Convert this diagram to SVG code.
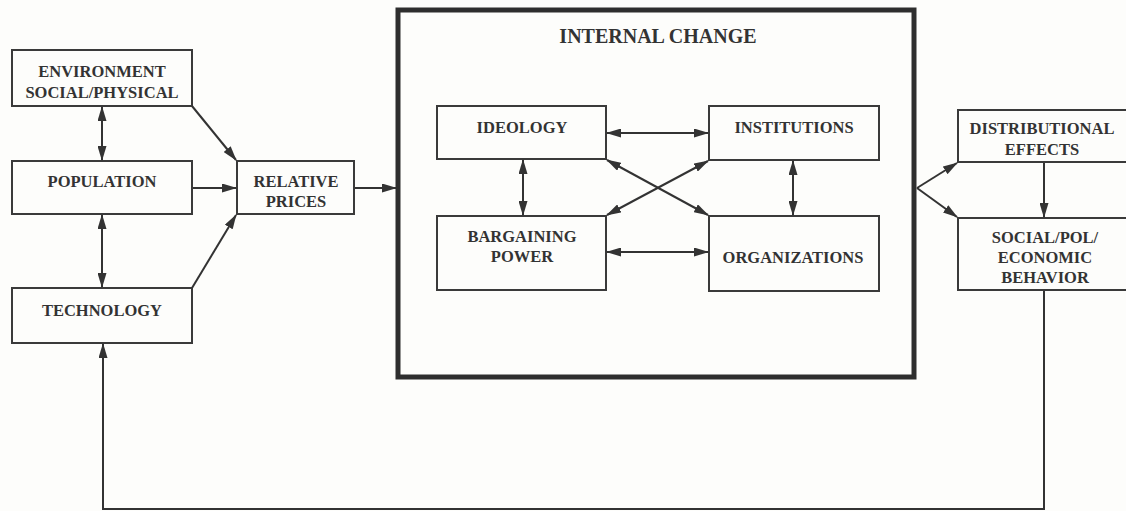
<svg xmlns="http://www.w3.org/2000/svg" width="1126" height="511" viewBox="0 0 1126 511">
<style>
.box{fill:none;stroke:#3a3a3a;stroke-width:2}
.big{fill:none;stroke:#2e2e2e;stroke-width:5}
.lbl{font-family:"Liberation Serif","Times New Roman",serif;font-weight:bold;font-size:16.5px;fill:#333;text-anchor:middle}
.ttl{font-family:"Liberation Serif","Times New Roman",serif;font-weight:bold;font-size:20px;fill:#333;text-anchor:middle}
.c{fill:none;stroke:#333;stroke-width:2}
.e{marker-end:url(#ah)}
.b{marker-start:url(#ah);marker-end:url(#ah)}
</style>
<defs>
<marker id="ah" markerUnits="userSpaceOnUse" markerWidth="15" markerHeight="9" refX="14" refY="4.5" orient="auto-start-reverse" viewBox="0 0 15 9">
<path d="M0,0 L15,4.5 L0,9 z" fill="#333"/>
</marker>
</defs>
<rect width="1126" height="511" fill="#fdfdfb"/>
<g id="environment"><rect class="box" x="12" y="50" width="180" height="56"/><text class="lbl" x="102" y="77">ENVIRONMENT</text><text class="lbl" x="102" y="98">SOCIAL/PHYSICAL</text></g>
<g id="population"><rect class="box" x="12" y="161" width="180" height="53"/><text class="lbl" x="102" y="187">POPULATION</text></g>
<g id="technology"><rect class="box" x="12" y="288" width="180" height="55"/><text class="lbl" x="102" y="316">TECHNOLOGY</text></g>
<g id="relative-prices"><rect class="box" x="237" y="161" width="117" height="53"/><text class="lbl" x="296" y="187">RELATIVE</text><text class="lbl" x="296" y="207">PRICES</text></g>
<g id="internal-change"><rect class="big" x="398" y="10" width="516" height="367"/><text class="ttl" x="658" y="43">INTERNAL CHANGE</text></g>
<g id="ideology"><rect class="box" x="437" y="106" width="169" height="53"/><text class="lbl" x="522" y="133">IDEOLOGY</text></g>
<g id="institutions"><rect class="box" x="709" y="106" width="170" height="54"/><text class="lbl" x="794" y="133">INSTITUTIONS</text></g>
<g id="bargaining-power"><rect class="box" x="437" y="216" width="169" height="74"/><text class="lbl" x="522" y="242">BARGAINING</text><text class="lbl" x="522" y="262">POWER</text></g>
<g id="organizations"><rect class="box" x="709" y="216" width="170" height="75"/><text class="lbl" x="793" y="263">ORGANIZATIONS</text></g>
<g id="distributional-effects"><rect class="box" x="958" y="110" width="200" height="52"/><text class="lbl" x="1042" y="134">DISTRIBUTIONAL</text><text class="lbl" x="1042" y="155">EFFECTS</text></g>
<g id="behavior"><rect class="box" x="958" y="218" width="200" height="72"/><text class="lbl" x="1045" y="243">SOCIAL/POL/</text><text class="lbl" x="1045" y="263">ECONOMIC</text><text class="lbl" x="1045" y="283">BEHAVIOR</text></g>
<g id="connectors">
<line class="c b" x1="102" y1="107" x2="102" y2="160"/>
<line class="c b" x1="102" y1="215" x2="102" y2="287"/>
<line class="c e" x1="192" y1="106" x2="236" y2="160"/>
<line class="c e" x1="193" y1="188" x2="236" y2="188"/>
<line class="c e" x1="192" y1="288" x2="236" y2="215"/>
<line class="c e" x1="355" y1="188" x2="396" y2="188"/>
<line class="c b" x1="607" y1="133" x2="708" y2="133"/>
<line class="c b" x1="607" y1="252" x2="708" y2="252"/>
<line class="c b" x1="523" y1="160" x2="523" y2="215"/>
<line class="c b" x1="793" y1="161" x2="793" y2="215"/>
<line class="c b" x1="607" y1="160" x2="708" y2="215"/>
<line class="c b" x1="708" y1="161" x2="607" y2="215"/>
<line class="c e" x1="917" y1="188" x2="957" y2="163"/>
<line class="c e" x1="917" y1="188" x2="957" y2="217"/>
<line class="c e" x1="1044" y1="163" x2="1044" y2="217"/>
<polyline class="c e" points="1044,291 1044,509 103,509 103,344"/>
</g>
</svg>
